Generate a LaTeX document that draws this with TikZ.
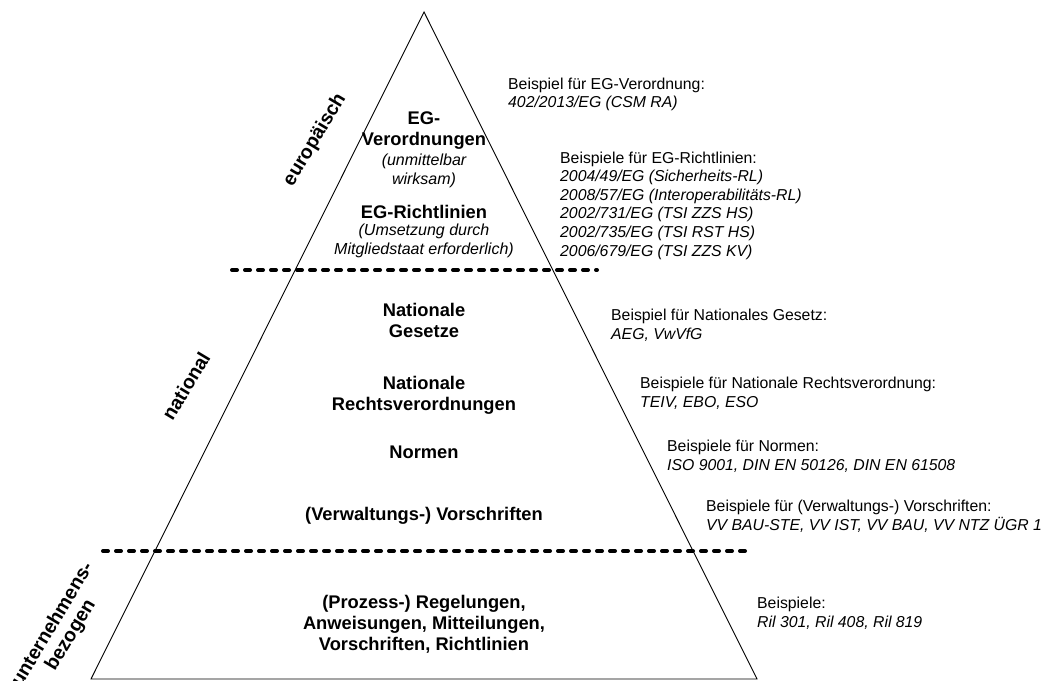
\documentclass[tikz,border=0pt]{standalone}
\usepackage{fontspec}
\setmainfont{Liberation Sans}
\usepackage{tikz}
\usetikzlibrary{positioning}

\begin{document}
\begin{tikzpicture}[
    x=1bp,y=-1bp,
    every node/.style={inner sep=0pt},
    level/.style={font=\fontsize{18.3bp}{21bp}\selectfont\bfseries,align=center},
    levelnote/.style={font=\fontsize{16bp}{18.4bp}\selectfont\itshape,align=center},
    example/.style={font=\fontsize{15.8bp}{18.6bp}\selectfont,align=left,anchor=west},
    scopelbl/.style={font=\fontsize{19.5bp}{21bp}\selectfont\bfseries,align=center,rotate=59},
    sepline/.style={line width=4bp,dash pattern=on 5bp off 8bp,line cap=round},
    edge/.style={line width=0.9bp}
]
\useasboundingbox (0,0) rectangle (1045,681);

% Pyramid
\coordinate (top) at (424,12);
\coordinate (bl)  at (91,679);
\coordinate (br)  at (757,679);
\draw[edge] (top) -- (bl) -- (br) -- cycle;

% Separators
\coordinate (sep1l) at (232,270);
\coordinate (sep1r) at (597,270);
\coordinate (sep2l) at (103,551);
\coordinate (sep2r) at (747,551);
\draw[sepline] (sep1l) -- (sep1r);
\draw[sepline] (sep2l) -- (sep2r);

% Levels inside the pyramid
\node[level] (egvo) at (424,131) {EG-\\Verordnungen};
\node[levelnote] (egvonote) at (424,171) {(unmittelbar\\wirksam)};
\node[level] (egrl) at (424,212) {EG-Richtlinien};
\node[levelnote] (egrlnote) at (424,241) {(Umsetzung durch\\Mitgliedstaat erforderlich)};
\node[level] (gesetz) at (424,320) {Nationale\\Gesetze};
\node[level] (rvo) at (424,395) {Nationale\\Rechtsverordnungen};
\node[level] (normen) at (424,452) {Normen};
\node[level] (vwv) at (424,516) {(Verwaltungs-) Vorschriften};
\node[level] (intern) at (424,624) {(Prozess-) Regelungen,\\Anweisungen, Mitteilungen,\\Vorschriften, Richtlinien};

% Scope labels along the left edge
\node[scopelbl] (eu) at (315,140) {europäisch};
\node[scopelbl] (nat) at (186,386) {national};
\node[scopelbl] (unt) at (62,630) {unternehmens-\\bezogen};

% Examples on the right
\node[example] (exvo) at (508,94.5) {Beispiel für EG-Verordnung:\\\textit{402/2013/EG (CSM RA)}};
\node[example] (exrl) at (560,205.5) {Beispiele für EG-Richtlinien:\\
  \textit{2004/49/EG (Sicherheits-RL)}\\
  \textit{2008/57/EG (Interoperabilitäts-RL)}\\
  \textit{2002/731/EG (TSI ZZS HS)}\\
  \textit{2002/735/EG (TSI RST HS)}\\
  \textit{2006/679/EG (TSI ZZS KV)}};
\node[example] (exges) at (611,325) {Beispiel für Nationales Gesetz:\\\textit{AEG, VwVfG}};
\node[example] (exrvo) at (640,393) {Beispiele für Nationale Rechtsverordnung:\\\textit{TEIV, EBO, ESO}};
\node[example] (exnorm) at (667,456) {Beispiele für Normen:\\\textit{ISO 9001, DIN EN 50126, DIN EN 61508}};
\node[example] (exvwv) at (706,516) {Beispiele für (Verwaltungs-) Vorschriften:\\\textit{VV BAU-STE, VV IST, VV BAU, VV NTZ ÜGR 1}};
\node[example] (exril) at (757,613) {Beispiele:\\\textit{Ril 301, Ril 408, Ril 819}};
\end{tikzpicture}
\end{document}
